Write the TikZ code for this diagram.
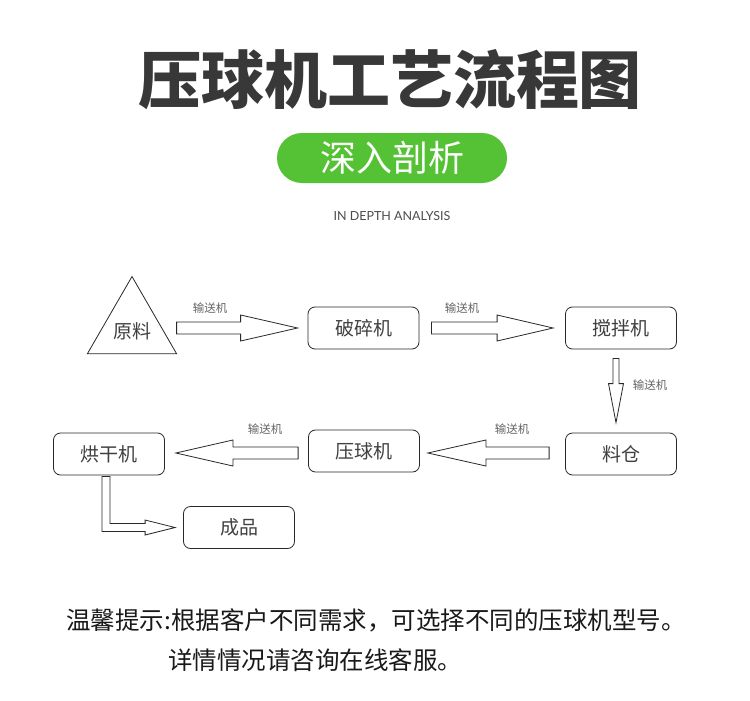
\documentclass[tikz,border=0pt]{standalone}
\usepackage{fontspec}
\setmainfont{Noto Sans CJK SC}
\newfontfamily\cjk{Noto Sans CJK SC}
\newfontfamily\latin{Lato}
\usepackage{tikz}
\usetikzlibrary{calc,shapes.geometric}
\usepackage{xcolor}

\definecolor{pillgreen}{RGB}{84,194,52}
\definecolor{boxtext}{RGB}{64,64,64}
\definecolor{lbltext}{RGB}{100,100,100}
\definecolor{edge}{RGB}{40,40,40}

\tikzset{
  stage/.style={draw=edge,line width=0.8pt,rounded corners=7pt,minimum width=111pt,
    minimum height=42pt,inner sep=0pt,text=boxtext,font=\cjk\fontsize{19}{19}\selectfont},
  fatline/.style={draw=edge,line width=0.8pt,fill=white},
  belt/.style={text=lbltext,font=\cjk\fontsize{11.5}{12}\selectfont,inner sep=0pt}
}

% 空心箭头: #1 起点, #2 箭尖, #3 箭杆半宽, #4 箭头半宽, #5 箭头长度
\newcommand{\fatarrow}[5]{%
  \coordinate (hb) at ($(#2)!#5!(#1)$);
  \draw[fatline] ($(#1)!#3!90:(#2)$) -- ($(hb)!#3!90:(#2)$) -- ($(hb)!#4!90:(#2)$)
    -- (#2) -- ($(hb)!#4!-90:(#2)$) -- ($(hb)!#3!-90:(#2)$) -- ($(#1)!#3!-90:(#2)$) -- cycle;
}

\begin{document}
\begin{tikzpicture}[x=1pt,y=-1pt]
    \useasboundingbox[fill=white] (0,0) rectangle (750,701);

    % 标题和绿色标签
    \node[text=black!78,font=\cjk\bfseries\fontsize{63}{63}\selectfont,inner sep=0pt] (judul) at (390,80) {压球机工艺流程图};
    \node[fill=pillgreen,rounded corners=25pt,minimum width=230pt,minimum height=50pt,inner sep=0pt,
      text=white,font=\cjk\fontsize{36}{36}\selectfont] (pil) at (392,158) {深入剖析};
    \node[text=black!70,font=\latin\fontsize{12.5}{13}\selectfont,inner sep=0pt] (sub) at (392,216) {IN DEPTH ANALYSIS};

    % 各个工序
    \node[draw=edge,line width=0.8pt,regular polygon,regular polygon sides=3,minimum size=103pt,
      inner sep=0pt,outer sep=0pt] (yl) at (132,328) {};
    \node[text=boxtext,font=\cjk\fontsize{19}{19}\selectfont,inner sep=0pt] (ylt) at (132,331) {原料};
    \node[stage] (psj) at (363.5,328) {破碎机};
    \node[stage] (jbj) at (621,328) {搅拌机};
    \node[stage] (lc) at (621,454) {料仓};
    \node[stage] (qqj) at (364,451) {压球机};
    \node[stage] (hgj) at (109,454) {烘干机};
    \node[stage] (cp) at (239,527.5) {成品};

    % 工序之间的输送箭头
    \fatarrow{yl.corner 3 |- psj.west}{$(psj.west)+(-10,0)$}{6pt}{13pt}{57pt}
    \fatarrow{$(psj.east)+(12,0)$}{$(jbj.west)+(-12,0)$}{6pt}{13pt}{56pt}
    \fatarrow{$(jbj.south)+(-5,9)$}{$(lc.north)+(-5,-10)$}{3pt}{7.5pt}{39pt}
    \fatarrow{$(lc.west)+(-16,-1)$}{$(qqj.east)+(8,2)$}{6pt}{13pt}{58pt}
    \fatarrow{$(qqj.west)+(-10,2)$}{$(hgj.east)+(11,-1)$}{6pt}{13pt}{57pt}

    % 烘干机到成品的折线箭头
    \draw[fatline] let \p1=($(hgj.south)+(-3,1)$), \p2=($(cp.west)+(-8,0)$) in
      (\x1-4pt,\y1) -- (\x1-4pt,\y2-4pt) -- (\x2-30pt,\y2-4pt) -- (\x2-30pt,\y2-7.5pt) -- (\p2)
      -- (\x2-30pt,\y2+7.5pt) -- (\x2-30pt,\y2+4pt) -- (\x1+4pt,\y2+4pt) -- (\x1+4pt,\y1) -- cycle;

    % 输送机标注
    \node[belt] (b1) at (210,308) {输送机};
    \node[belt] (b2) at (462,308) {输送机};
    \node[belt] (b3) at (650,385) {输送机};
    \node[belt] (b4) at (512,429) {输送机};
    \node[belt] (b5) at (265,429) {输送机};

    % 底部提示
    \node[text=black!90,font=\cjk\fontsize{24.5}{25}\selectfont,inner sep=0pt] (tip1) at (376,620) {温馨提示:根据客户不同需求，可选择不同的压球机型号。};
    \node[text=black!90,font=\cjk\fontsize{24.5}{25}\selectfont,inner sep=0pt] (tip2) at (315,660) {详情情况请咨询在线客服。};

\end{tikzpicture}
\end{document}
